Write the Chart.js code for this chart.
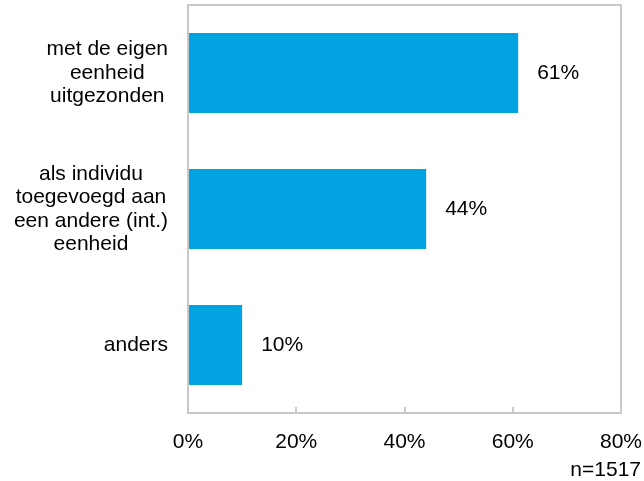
<!DOCTYPE html>
<html>
<head>
<meta charset="utf-8">
<script src="https://cdn.jsdelivr.net/npm/chart.js@4/dist/chart.umd.min.js"></script>
<style>
  body { margin: 0; background: #fff; }
</style>
</head>
<body>
<canvas id="myChart" width="644" height="481"></canvas>
<script>
var categories = [
  ['met de eigen', 'eenheid', 'uitgezonden'],
  ['als individu', 'toegevoegd aan', 'een andere (int.)', 'eenheid'],
  ['anders']
];
var percentages = [61, 44, 10];
var xTicks = [0, 20, 40, 60, 80];
var sampleNote = 'n=1517';

var FONT = '"Liberation Sans", Arial, sans-serif';
var FONT_SIZE = 21;
var BORDER = '#c9c9c9';

// frame, inward ticks, category labels, bar values and the n note
var extras = {
  id: 'extras',
  afterDraw: function(chart) {
    var c = chart.ctx;
    var a = chart.chartArea;
    var xs = chart.scales.x;
    var ys = chart.scales.y;
    c.save();
    c.strokeStyle = BORDER;
    c.lineWidth = 2;
    c.strokeRect(a.left, a.top, a.right - a.left, a.bottom - a.top);
    xTicks.slice(1, -1).forEach(function(t) {
      var px = Math.round(xs.getPixelForValue(t));
      c.beginPath();
      c.moveTo(px, a.bottom);
      c.lineTo(px, a.bottom - 6);
      c.stroke();
    });

    c.fillStyle = '#000';
    c.font = FONT_SIZE + 'px ' + FONT;
    c.textBaseline = 'middle';
    c.textAlign = 'center';
    var lineH = 23.5;
    categories.forEach(function(lines, i) {
      var cy = ys.getPixelForValue(i);
      var w = 0;
      lines.forEach(function(l) { w = Math.max(w, c.measureText(l).width); });
      var cx = a.left - 20 - w / 2;
      var y0 = cy - (lines.length - 1) * lineH / 2;
      lines.forEach(function(l, k) { c.fillText(l, cx, y0 + k * lineH); });
    });

    c.textAlign = 'left';
    var meta = chart.getDatasetMeta(0);
    meta.data.forEach(function(bar, i) {
      c.fillText(percentages[i] + '%', bar.x + 19, bar.y);
    });

    c.textAlign = 'right';
    c.fillText(sampleNote, 641, 470);
    c.restore();
  }
};

new Chart(document.getElementById('myChart').getContext('2d'), {
  type: 'bar',
  data: {
    labels: categories,
    datasets: [{
      data: percentages,
      backgroundColor: '#00a2e0',
      barPercentage: 0.59,
      categoryPercentage: 1
    }]
  },
  options: {
    indexAxis: 'y',
    responsive: false,
    animation: false,
    layout: { padding: { left: 188, right: 23, top: 5, bottom: 0 } },
    plugins: {
      legend: { display: false },
      tooltip: { enabled: false }
    },
    scales: {
      x: {
        min: 0,
        max: 80,
        afterBuildTicks: function(s) { s.ticks = xTicks.map(function(v) { return { value: v }; }); },
        afterFit: function(s) {
          s.height = 68;
          s.paddingLeft = 0;
          s.paddingRight = 0;
        },
        grid: { display: false, drawTicks: false },
        border: { display: false },
        ticks: {
          color: '#000',
          padding: 17,
          font: { family: FONT, size: FONT_SIZE },
          callback: function(v) { return v + '%'; }
        }
      },
      y: {
        grid: { display: false },
        border: { display: false },
        ticks: { display: false },
        afterFit: function(s) { s.width = 0; }
      }
    }
  },
  plugins: [extras]
});
</script>
</body>
</html>
